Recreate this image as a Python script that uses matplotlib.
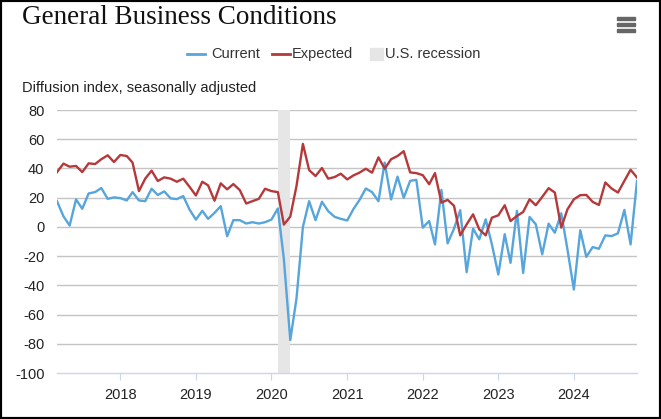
import numpy as np
import pandas as pd
import matplotlib
matplotlib.use('Agg')
import matplotlib.pyplot as plt
import matplotlib.dates as mdates
from matplotlib.patches import Rectangle

plt.rcParams['font.family'] = ['Liberation Sans', 'DejaVu Sans']

# Monthly readings, Mar 2017 - Nov 2024
start_month = '2017-03-01'
current = [
    17.6, 7.3, 0.9, 18.8, 12.4, 22.9, 23.8, 26.6, 19.2, 20.2,                     # 2017
    19.7, 18.1, 23.8, 18.1, 17.6, 26.1, 21.8, 24.3, 19.5, 19.0, 21.1, 11.9,       # 2018
    5.0, 11.0, 5.5, 9.6, 14.2, -6.4, 4.6, 4.6, 2.3, 3.2, 2.3, 3.2,                 # 2019
    5.0, 12.6, -22.0, -77.5, -49.0, 0.0, 17.6, 4.6, 17.2, 10.8, 6.9, 5.5,         # 2020
    4.4, 12.4, 18.3, 26.3, 23.8, 17.6, 44.0, 18.8, 34.4, 19.9, 31.5, 32.2,        # 2021
    -0.5, 4.0, -12.0, 25.3, -11.3, -1.2, 11.4, -31.0, -1.2, -8.5, 5.2, -12.0,     # 2022
    -32.6, -5.0, -24.6, 11.0, -31.5, 6.8, 1.8, -18.8, 2.2, -4.0, 9.3, -15.4,      # 2023
    -42.9, -2.3, -20.5, -13.8, -15.0, -5.8, -6.3, -4.4, 11.6, -12.0, 31.5,        # 2024
]
expected = [
    37.5, 43.3, 41.2, 41.7, 37.5, 43.5, 43.0, 46.3, 49.0, 44.4,                   # 2017
    49.2, 48.5, 44.0, 24.5, 33.0, 38.5, 31.4, 33.9, 33.0, 30.9, 33.0, 27.5,       # 2018
    21.5, 30.9, 28.4, 17.9, 29.8, 25.7, 29.3, 25.2, 16.0, 17.6, 19.2, 26.1,       # 2019
    24.5, 23.8, 1.6, 7.0, 28.0, 56.8, 38.9, 34.8, 40.3, 33.0, 34.1, 36.4,         # 2020
    32.5, 35.3, 37.1, 39.8, 37.1, 47.6, 39.8, 46.3, 48.5, 51.8, 37.3, 36.8,       # 2021
    35.4, 29.2, 36.8, 16.6, 18.5, 14.4, -5.8, 1.7, 8.6, -1.7, -5.8, 6.3,          # 2022
    7.9, 14.8, 4.0, 7.5, 10.2, 18.9, 14.8, 20.5, 26.5, 23.5, -0.5, 12.0,          # 2023
    18.9, 21.7, 21.9, 17.1, 15.0, 30.4, 26.3, 23.5, 31.5, 39.1, 33.8,             # 2024
]
recession = ('2020-02-01', '2020-04-01')
year_ticks = [str(y) for y in range(2018, 2025)]
y_ticks = list(range(-100, 81, 20))

dates = pd.date_range(start_month, periods=len(current), freq='MS')

blue = '#56a5dc'
red = '#b5393b'
band = '#e6e6e6'

fig = plt.figure(figsize=(6.61, 4.19), dpi=100)
ax = fig.add_axes([57 / 661, 46 / 419, 580 / 661, 263 / 419])

ax.axvspan(pd.Timestamp(recession[0]), pd.Timestamp(recession[1]), color=band, zorder=1, lw=0)
for v in y_ticks[1:]:
    ax.axhline(v, color='#c4c4c4', lw=1, zorder=0)
ax.plot(dates, current, color=blue, lw=1.7, zorder=3)
ax.plot(dates, expected, color=red, lw=1.7, zorder=3)

ax.set_xlim(dates[0], dates[-1])
ax.set_ylim(-100, 80)
ax.set_yticks(y_ticks)
ax.set_yticklabels([str(v) for v in y_ticks])
ax.set_xticks([pd.Timestamp(f'{y}-01-01') for y in year_ticks])
ax.set_xticklabels(year_ticks)
ax.tick_params(axis='y', length=0, pad=9, labelsize=10.5, labelcolor='#222222')
ax.tick_params(axis='x', length=5, color='#ccd6eb', pad=6, labelsize=10.5, labelcolor='#222222')
for s in ['top', 'right', 'left']:
    ax.spines[s].set_visible(False)
ax.spines['bottom'].set_color('#ccd6eb')
ax.spines['bottom'].set_linewidth(1)

# title, subtitle, legend
fig.text(22 / 661, 1 - 17 / 419, 'General Business Conditions', family=['Liberation Serif', 'DejaVu Serif'],
         fontsize=19.5, va='center', ha='left', color='#111111')
fig.text(22 / 661, 1 - 88 / 419, 'Diffusion index, seasonally adjusted', fontsize=10.5,
         va='center', ha='left', color='#222222')

ly = 1 - 54 / 419
fig.add_artist(plt.Line2D([187 / 661, 205 / 661], [ly, ly], color=blue, lw=2))
fig.text(211 / 661, ly, 'Current', fontsize=10.5, va='center', color='#333333')
fig.add_artist(plt.Line2D([272 / 661, 290 / 661], [ly, ly], color=red, lw=2))
fig.text(292 / 661, ly, 'Expected', fontsize=10.5, va='center', color='#333333')
fig.add_artist(Rectangle((370 / 661, ly - 6 / 419), 13 / 661, 12 / 419, color=band,
                         transform=fig.transFigure))
fig.text(385 / 661, ly, 'U.S. recession', fontsize=10.5, va='center', color='#333333')

# menu icon
for yy in [19, 25, 31]:
    fig.add_artist(Rectangle((617 / 661, 1 - (yy + 1.5) / 419), 18 / 661, 3 / 419,
                             color='#666666', transform=fig.transFigure))

# outer border
fig.add_artist(Rectangle((0, 0), 1, 1, fill=False, ec='black', lw=3, transform=fig.transFigure))

fig.savefig('out.png', dpi=100)
